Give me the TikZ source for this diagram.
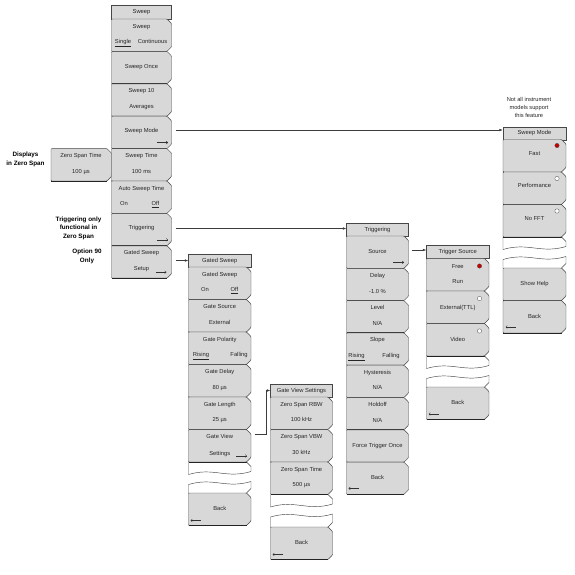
\documentclass[tikz,border=0pt]{standalone}
\usepackage{fontspec}
\setmainfont{Liberation Sans}
\usetikzlibrary{arrows.meta}
\definecolor{btnfill}{RGB}{216,216,216}
\definecolor{ttlfill}{RGB}{216,216,216}
\definecolor{edgec}{RGB}{70,70,70}
\definecolor{shadowc}{RGB}{35,35,35}
\definecolor{connc}{RGB}{60,60,60}
\definecolor{reddot}{RGB}{200,0,0}
\newcommand\Btn[4]{%
  \filldraw[fill=btnfill, draw=edgec, line width=0.45pt, rounded corners=0.8pt]
    (#1,#4) -- (#1,#2) -- ({#3-4.5},#2) -- (#3,{#2+4.5}) -- (#3,{#4-4.5}) -- ({#3-4.5},#4) -- cycle;
  \draw[shadowc, line width=1pt] ({#1+0.4},#4) -- ({#3-4.5},#4);
}
\newcommand\Brk[4]{%
  \draw[edgec, line width=0.45pt] ({#2-4.5},#3) -- (#2,{#3+4.5}) -- (#2,{#3+9.5})
    .. controls ({#2-0.4*(#2-#1)},{#3+17}) and ({#2-0.6*(#2-#1)},{#3+5}) .. (#1,{#3+12.5}) -- (#1,#3);
  \draw[edgec, line width=0.45pt] ({#2-4.5},#4) -- (#2,{#4-4.5}) -- (#2,{#3+19.5})
    .. controls ({#2-0.4*(#2-#1)},{#3+27}) and ({#2-0.6*(#2-#1)},{#3+15}) .. (#1,{#3+22.5}) -- (#1,#4);
}
\tikzset{
  lbl/.style={font=\fontsize{5.8}{6.5}\selectfont, inner sep=0pt, text height=4.2pt, text depth=1.2pt, text=black!85},
  ttl/.style={draw=edgec, fill=ttlfill, line width=0.45pt, inner sep=0pt, font=\fontsize{5.8}{6.5}\selectfont, text=black!85},
  note/.style={font=\bfseries\fontsize{6.3}{8.6}\selectfont, align=center, inner sep=0pt},
  thin note/.style={font=\fontsize{5.7}{8}\selectfont, align=center, inner sep=0pt, text=black!85},
  conn/.style={draw=connc, line width=0.5pt, -{Latex[length=3.5pt,width=2.6pt]}},
  glyph/.style={draw=black!80, line width=0.4pt, -{Straight Barb[length=1.5pt,width=2.8pt]}},
  radioon/.style={fill=reddot, draw=black!70, line width=0.3pt},
  radiooff/.style={fill=white, draw=black!60, line width=0.35pt},
}
\begin{document}
\begin{tikzpicture}[x=1pt,y=-1pt]
\useasboundingbox (0,0) rectangle (575,574);
\fill[white] (0,0) rectangle (575,574);

% ---------- left notes ----------
\node[note] (ndisp) at (25.5,159.3) {Displays\\in Zero Span};
\node[note] (ntrig) at (78.5,228) {Triggering only\\functional in\\Zero Span};
\node[note] (nopt) at (87,256.3) {Option 90\\Only};

% ---------- Zero Span Time ----------
\Btn{51}{148.6}{111.5}{181}
\node[lbl] (zst1) at (81,156.3) {Zero Span Time};
\node[lbl] (zst2) at (81,171.8) {100 µs};

% ---------- Sweep ----------
\node[ttl, minimum width=60pt, minimum height=13.5pt] (tsw) at (141.5,12.25) {Sweep};
\Btn{111.5}{19}{171.5}{51.4}
\Btn{111.5}{51.4}{171.5}{83.8}
\Btn{111.5}{83.8}{171.5}{116.2}
\Btn{111.5}{116.2}{171.5}{148.6}
\Btn{111.5}{148.6}{171.5}{181}
\Btn{111.5}{181}{171.5}{213.4}
\Btn{111.5}{213.4}{171.5}{245.8}
\Btn{111.5}{245.8}{171.5}{278.2}
\node[lbl] (sw1) at (141.5,26.5) {Sweep};
\node[lbl] (sw1a) at (123,42.2) {\underline{Single}};
\node[lbl] (sw1b) at (152.5,42.2) {Continuous};
\node[lbl] (sw2) at (141.5,67.2) {Sweep Once};
\node[lbl] (sw3) at (141.5,91.3) {Sweep 10};
\node[lbl] (sw3b) at (141.5,107) {Averages};
\node[lbl] (sw4) at (141.5,131.3) {Sweep Mode};
\draw[glyph] (157,142.6) -- (168,142.6);
\node[lbl] (sw5) at (141.5,156.3) {Sweep Time};
\node[lbl] (sw5b) at (141.5,171.8) {100 ms};
\node[lbl] (sw6) at (141.5,188.5) {Auto Sweep Time};
\node[lbl] (sw6a) at (124,204.2) {On};
\node[lbl] (sw6b) at (155.5,204.2) {\underline{Off}};
\node[lbl] (sw7) at (141.5,228.3) {Triggering};
\draw[glyph] (157,239.8) -- (168,239.8);
\node[lbl] (sw8) at (141.5,253.3) {Gated Sweep};
\node[lbl] (sw8b) at (141.5,268.6) {Setup};
\draw[glyph] (155.5,272.2) -- (166.5,272.2);

% ---------- Gated Sweep ----------
\node[ttl, minimum width=62.5pt, minimum height=12.5pt] (tgs) at (219.75,260.75) {Gated Sweep};
\Btn{188.5}{267}{251}{299.5}
\Btn{188.5}{299.5}{251}{332}
\Btn{188.5}{332}{251}{364.5}
\Btn{188.5}{364.5}{251}{397}
\Btn{188.5}{397}{251}{429.5}
\Btn{188.5}{429.5}{251}{462}
\Brk{188.5}{251}{462}{493}
\Btn{188.5}{493}{251}{525.5}
\node[lbl] (gs1) at (219.75,274.5) {Gated Sweep};
\node[lbl] (gs1a) at (205,290.3) {On};
\node[lbl] (gs1b) at (234.5,290.3) {\underline{Off}};
\node[lbl] (gs2) at (219.75,307) {Gate Source};
\node[lbl] (gs2b) at (219.75,322.8) {External};
\node[lbl] (gs3) at (219.75,339.5) {Gate Polarity};
\node[lbl] (gs3a) at (201,355.3) {\underline{Rising}};
\node[lbl] (gs3b) at (239,355.3) {Falling};
\node[lbl] (gs4) at (219.75,372) {Gate Delay};
\node[lbl] (gs4b) at (219.75,387.8) {80 µs};
\node[lbl] (gs5) at (219.75,404.5) {Gate Length};
\node[lbl] (gs5b) at (219.75,420.3) {25 µs};
\node[lbl] (gs6) at (219.75,437) {Gate View};
\node[lbl] (gs6b) at (219.75,453.5) {Settings};
\draw[glyph] (236,456) -- (247,456);
\node[lbl] (gsback) at (219.75,509.25) {Back};
\draw[glyph] (200.5,520.5) -- (190.5,520.5);

% ---------- Gate View Settings ----------
\node[ttl, minimum width=62pt, minimum height=13pt] (tgv) at (301.5,390.5) {Gate View Settings};
\Btn{270.5}{397}{332.5}{429.5}
\Btn{270.5}{429.5}{332.5}{462}
\Btn{270.5}{462}{332.5}{494.5}
\Brk{270.5}{332.5}{494.5}{527}
\Btn{270.5}{527}{332.5}{559.5}
\node[lbl] (gv1) at (301.5,404.5) {Zero Span RBW};
\node[lbl] (gv1b) at (301.5,420.3) {100 kHz};
\node[lbl] (gv2) at (301.5,437) {Zero Span VBW};
\node[lbl] (gv2b) at (301.5,452.8) {30 kHz};
\node[lbl] (gv3) at (301.5,469.5) {Zero Span Time};
\node[lbl] (gv3b) at (301.5,485.3) {500 µs};
\node[lbl] (gvback) at (301.5,543.25) {Back};
\draw[glyph] (282.5,554.5) -- (272.5,554.5);

% ---------- Triggering ----------
\node[ttl, minimum width=62pt, minimum height=13pt] (ttr) at (377.5,229.5) {Triggering};
\Btn{346.5}{236}{408.5}{268.3}
\Btn{346.5}{268.3}{408.5}{300.6}
\Btn{346.5}{300.6}{408.5}{332.9}
\Btn{346.5}{332.9}{408.5}{365.2}
\Btn{346.5}{365.2}{408.5}{397.5}
\Btn{346.5}{397.5}{408.5}{429.8}
\Btn{346.5}{429.8}{408.5}{462.1}
\Btn{346.5}{462.1}{408.5}{494.4}
\node[lbl] (tr1) at (377.5,251.5) {Source};
\draw[glyph] (393,262.4) -- (404,262.4);
\node[lbl] (tr2) at (377.5,275.8) {Delay};
\node[lbl] (tr2b) at (377.5,291.5) {-1.0 \%};
\node[lbl] (tr3) at (377.5,308.1) {Level};
\node[lbl] (tr3b) at (377.5,323.8) {N/A};
\node[lbl] (tr4) at (377.5,340.4) {Slope};
\node[lbl] (tr4a) at (356.5,356.1) {\underline{Rising}};
\node[lbl] (tr4b) at (391,356.1) {Falling};
\node[lbl] (tr5) at (377.5,372.7) {Hysteresis};
\node[lbl] (tr5b) at (377.5,388.4) {N/A};
\node[lbl] (tr6) at (377.5,405) {Holdoff};
\node[lbl] (tr6b) at (377.5,420.7) {N/A};
\node[lbl] (tr7) at (377.5,446) {Force Trigger Once};
\node[lbl] (trback) at (377.5,478.25) {Back};
\draw[glyph] (358.5,488.4) -- (348.5,488.4);

% ---------- Trigger Source ----------
\node[ttl, minimum width=62.5pt, minimum height=13pt] (tts) at (457.75,252) {Trigger Source};
\Btn{426.5}{258.5}{489}{291}
\Btn{426.5}{291}{489}{323.5}
\Btn{426.5}{323.5}{489}{356}
\Brk{426.5}{489}{356}{387}
\Btn{426.5}{387}{489}{419.5}
\node[lbl] (ts1) at (457.75,266.5) {Free};
\node[lbl] (ts1b) at (457.75,282.3) {Run};
\filldraw[radioon] (479.5,266) circle (2.2pt);
\node[lbl] (ts2) at (457.75,307.5) {External(TTL)};
\filldraw[radiooff] (479.5,298.5) circle (2.2pt);
\node[lbl] (ts3) at (457.75,339.5) {Video};
\filldraw[radiooff] (479.5,331) circle (2.2pt);
\node[lbl] (tsback) at (457.75,403.25) {Back};
\draw[glyph] (438.5,414) -- (428.5,414);

% ---------- Sweep Mode ----------
\node[thin note] (nnot) at (529,107.3) {Not all instrument\\models support\\this feature};
\node[ttl, minimum width=63pt, minimum height=13pt] (tsm) at (534.5,133.25) {Sweep Mode};
\Btn{503}{139.5}{566}{172}
\Btn{503}{172}{566}{204.5}
\Btn{503}{204.5}{566}{237}
\Brk{503}{566}{237}{268}
\Btn{503}{268}{566}{300.5}
\Btn{503}{300.5}{566}{333}
\node[lbl] (sm1) at (534.5,153.5) {Fast};
\filldraw[radioon] (557,145.5) circle (2.2pt);
\node[lbl] (sm2) at (534.5,186) {Performance};
\filldraw[radiooff] (557,178.5) circle (2.2pt);
\node[lbl] (sm3) at (534.5,218.5) {No FFT};
\filldraw[radiooff] (557,211) circle (2.2pt);
\node[lbl] (sm4) at (534.5,284.25) {Show Help};
\node[lbl] (smback) at (534.5,316.75) {Back};
\draw[glyph] (515.5,327) -- (505.5,327);

% ---------- connectors ----------
\coordinate (smout) at (175.5,130);
\draw[conn] (smout) -- (tsm.west |- smout);
\coordinate (trout) at (175.5,228.5);
\draw[conn] (trout) -- (ttr.west |- trout);
\coordinate (gsout) at (175.5,260.5);
\draw[conn] (gsout) -- (tgs.west |- gsout);
\coordinate (gvout) at (254.5,434);
\coordinate (gvbend) at (266,434);
\draw[conn] (gvout) -- (gvbend) |- (tgv.west);
\coordinate (srcout) at (411.5,250);
\draw[conn] (srcout) -- (tts.west |- srcout);
\end{tikzpicture}
\end{document}
